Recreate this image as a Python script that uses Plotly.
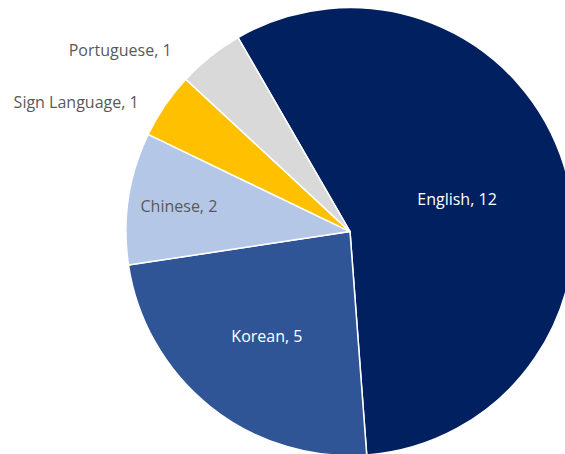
import plotly.graph_objects as go

languages = ["English", "Korean", "Chinese", "Sign Language", "Portuguese"]
counts = [12, 5, 2, 1, 1]
colors = ["#002060", "#2F5597", "#B4C7E7", "#FFC000", "#D9D9D9"]
text_colors = ["#FFFFFF", "#FFFFFF", "#595959", "#595959", "#595959"]
positions = ["inside", "inside", "inside", "outside", "outside"]
# trailing non-breaking spaces that push the outside labels away from the rim
label_gap = [0, 0, 0, 5, 8]

labels_text = [f"{l}, {c}" + "\u00a0" * g for l, c, g in zip(languages, counts, label_gap)]

fig = go.Figure(go.Pie(
    labels=languages,
    values=counts,
    text=labels_text,
    textinfo="text",
    textposition=positions,
    insidetextorientation="horizontal",
    sort=False,
    direction="clockwise",
    rotation=-30,
    marker=dict(colors=colors, line=dict(color="#FFFFFF", width=1.5)),
    textfont=dict(family="Open Sans, sans-serif", size=16, color=text_colors),
    domain=dict(x=[126 / 600, 574 / 600], y=[(470 - 456) / 470, 1.0]),
    showlegend=False,
    hoverinfo="label+value",
))

fig.update_layout(
    width=600, height=470,
    margin=dict(l=0, r=0, t=0, b=0),
    paper_bgcolor="#FFFFFF",
    plot_bgcolor="#FFFFFF",
)

fig.write_html(
    "out.html",
    config={"displayModeBar": False},
    post_script="document.body.style.margin='0';document.body.style.overflow='hidden';",
)
